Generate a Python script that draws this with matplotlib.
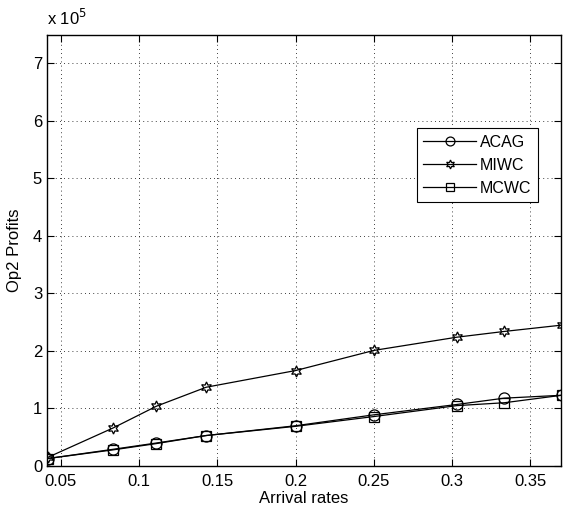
import matplotlib.pyplot as plt
from matplotlib.ticker import FixedLocator

plt.rcParams['font.family'] = ['Liberation Sans', 'DejaVu Sans']

# arrival rates (x) and Op2 profits in units of 1e5
rates = [0.0417, 0.0833, 0.1111, 0.1429, 0.2, 0.25, 0.3030, 0.3333, 0.37]
acag = [0.13, 0.29, 0.40, 0.53, 0.70, 0.89, 1.07, 1.18, 1.23]
miwc = [0.15, 0.66, 1.04, 1.37, 1.66, 2.01, 2.24, 2.34, 2.45]
mcwc = [0.13, 0.28, 0.39, 0.53, 0.69, 0.86, 1.05, 1.10, 1.23]

fig = plt.figure(figsize=(5.64, 5.08), dpi=100)
ax = fig.add_axes([47/564, 42/508, 514/564, 431.3/508])

mk = dict(color='black', lw=0.9, markerfacecolor='none', markeredgecolor='black',
          markersize=8, markeredgewidth=0.9)
ax.plot(rates, acag, marker='o', label='ACAG', **mk)
ax.plot(rates, miwc, marker=(6, 1, 0), label='MIWC', **mk)
ax.plot(rates, mcwc, marker='s', label='MCWC', **dict(mk, markersize=7))

ax.set_xlim(0.0412, 0.3695)
ax.set_ylim(0, 7.5)
ax.xaxis.set_major_locator(FixedLocator([0.05, 0.1, 0.15, 0.2, 0.25, 0.3, 0.35]))
ax.set_xticklabels(['0.05', '0.1', '0.15', '0.2', '0.25', '0.3', '0.35'])
ax.set_yticks(range(0, 8))
ax.tick_params(direction='in', top=True, right=True, labelsize=12, length=5, width=0.8)
ax.tick_params(axis='x', pad=6)
ax.grid(True, linestyle=(0, (1, 4)), color='black', lw=0.6)
for s in ax.spines.values():
    s.set_linewidth(1.0)

ax.set_xlabel('Arrival rates', fontsize=12, labelpad=1)
ax.set_ylabel('Op2 Profits', fontsize=12, labelpad=8)
ax.text(0.0, 1.015, r'x 10$^5$', transform=ax.transAxes, fontsize=12, va='bottom')

leg = ax.legend(loc='upper right', bbox_to_anchor=(0.955, 0.783), fontsize=11.5,
                handlelength=3.3, fancybox=False, framealpha=1, edgecolor='black',
                borderpad=0.4, labelspacing=0.5, handletextpad=0.25, borderaxespad=0,
                markerscale=0.8)
leg.get_frame().set_linewidth(0.8)

fig.savefig('out.png', dpi=100)
